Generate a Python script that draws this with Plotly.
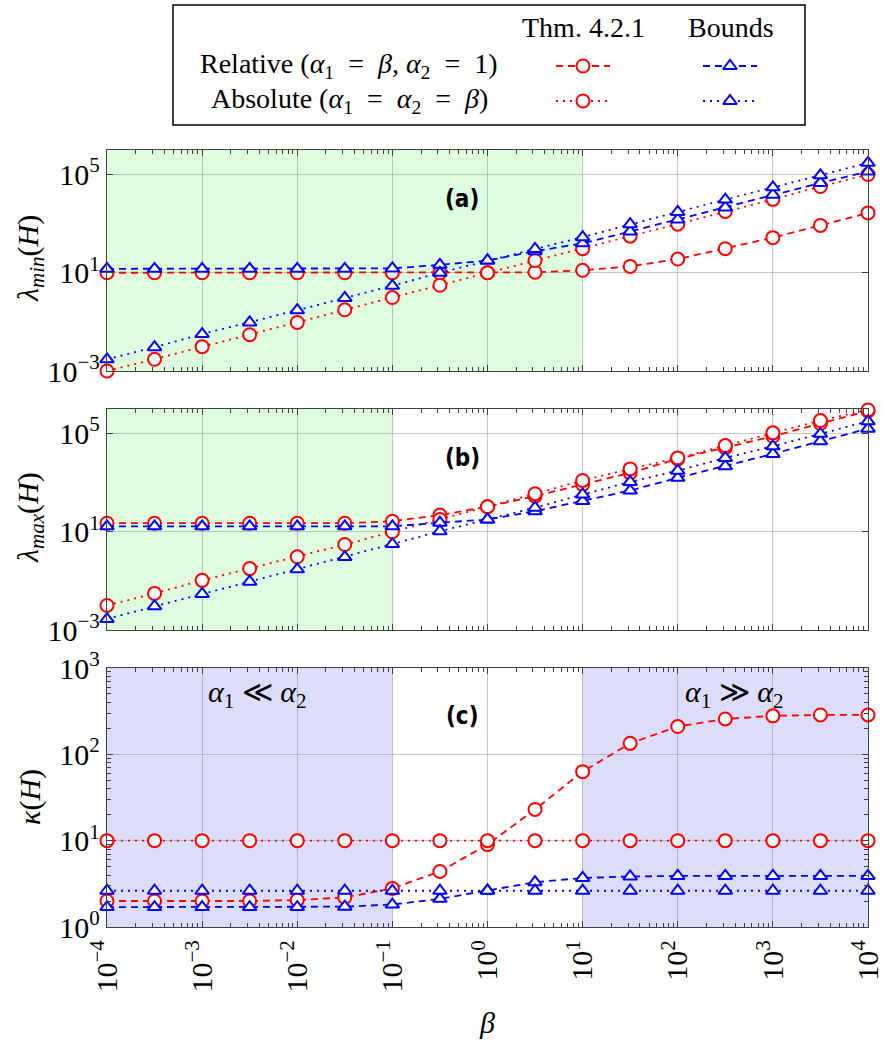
import plotly.graph_objects as go

W, H = 884, 1046

# beta sweep: half-decade steps from 1e-4 to 1e4
beta = [1e-4, 3.16e-4, 1e-3, 3.16e-3, 1e-2, 3.16e-2, 1e-1, 3.16e-1, 1.0,
        3.16, 10.0, 31.6, 100.0, 316.0, 1000.0, 3160.0, 10000.0]

# (a) smallest eigenvalue
lmin_rel_thm = [10, 10, 10, 10, 10, 10, 10, 10, 10, 10.5, 12.6, 18.2, 36.3,
                95.5, 269, 851, 2750]
lmin_abs_thm = [0.001, 0.0030, 0.0098, 0.030, 0.095, 0.31, 0.98, 3.1, 10,
                31.6, 95.5, 309, 955, 3160, 9770, 32400, 100000]
lmin_rel_bnd = [14.5, 14.5, 14.5, 14.5, 14.5, 14.5, 15.1, 21, 31.6, 76, 158,
                479, 1480, 4570, 15100, 45700, 132000]
lmin_abs_bnd = [0.0030, 0.0093, 0.032, 0.095, 0.30, 0.95, 2.95, 10, 31.6, 93,
                282, 955, 3020, 9550, 30200, 93300, 302000]

# (b) largest eigenvalue
lmax_rel_thm = [22.4, 22.4, 22.4, 22.4, 22.4, 22.4, 26.9, 47.9, 105, 282, 851,
                2510, 9330, 26300, 77600, 257000, 832000]
lmax_abs_thm = [0.01, 0.031, 0.105, 0.316, 0.955, 3.02, 10, 31.6, 105, 355,
                1230, 3630, 10200, 32400, 107000, 339000, 912000]
lmax_rel_bnd = [16.6, 16.6, 16.6, 16.6, 16.6, 16.6, 16.6, 23.4, 31.6, 69, 178,
                479, 1580, 4680, 14800, 49000, 158000]
lmax_abs_bnd = [0.0028, 0.0093, 0.0295, 0.093, 0.295, 0.93, 3.16, 10.5, 31.6,
                95.5, 331, 1070, 3090, 10200, 30200, 97700, 316000]

# (c) condition number
kap_rel_thm = [2.0, 2.0, 2.0, 2.0, 2.05, 2.2, 2.8, 4.4, 9.0, 23, 63, 134, 210,
               257, 279, 286, 286]
kap_abs_thm = [10] * 17
kap_rel_bnd = [1.7, 1.7, 1.7, 1.7, 1.7, 1.72, 1.82, 2.12, 2.65, 3.3, 3.7, 3.85,
               3.9, 3.9, 3.9, 3.9, 3.9]
kap_abs_bnd = [2.63] * 17

x_tick_vals = [1e-4, 1e-3, 1e-2, 1e-1, 1, 10, 100, 1000, 10000]
x_tick_text = ["10<sup>−4</sup>", "10<sup>−3</sup>", "10<sup>−2</sup>",
               "10<sup>−1</sup>", "10<sup>0</sup>", "10<sup>1</sup>",
               "10<sup>2</sup>", "10<sup>3</sup>", "10<sup>4</sup>"]
lam_tick_vals = [1e-3, 10, 1e5]
lam_tick_text = ["10<sup>−3</sup>", "10<sup>1</sup>", "10<sup>5</sup>"]
kap_tick_vals = [1, 10, 100, 1000]
kap_tick_text = ["10<sup>0</sup>", "10<sup>1</sup>", "10<sup>2</sup>", "10<sup>3</sup>"]

RED = "#ff0000"
BLUE = "#0000ff"
DASH = "7px,5px"
DOT = "2px,5px"
SERIF = "Liberation Serif, DejaVu Serif, serif"
LABEL_FONT = "DejaVu Sans Condensed, DejaVu Sans, Open Sans, sans-serif"
AXIS_COLOR = "#404040"
GRID_COLOR = "rgba(150,150,150,0.55)"
TICK_SIZE = 30
EQ = "\u2002=\u2002"

def px_x(x):
    return x / W

def px_y(y):
    return 1 - y / H

X_DOM = [px_x(107), px_x(868)]
DOMS = {
    "a": [px_y(371), px_y(150)],
    "b": [px_y(630), px_y(409)],
    "c": [px_y(927), px_y(668)],
}

fig = go.Figure()

styles = [
    (RED, DASH, "circle-open", 13),
    (RED, DOT, "circle-open", 13),
    (BLUE, DASH, "triangle-up-open", 12),
    (BLUE, DOT, "triangle-up-open", 12),
]

def marker(col, sym, size, opacity=None):
    # white-filled outline markers
    m = dict(symbol=sym.replace("-open", ""), size=size, color="white",
             line=dict(color=col, width=2))
    if opacity is not None:
        m["opacity"] = opacity
    return m

panels = [
    ("x", "y", [lmin_rel_thm, lmin_abs_thm, lmin_rel_bnd, lmin_abs_bnd]),
    ("x2", "y2", [lmax_rel_thm, lmax_abs_thm, lmax_rel_bnd, lmax_abs_bnd]),
    ("x3", "y3", [kap_rel_thm, kap_abs_thm, kap_rel_bnd, kap_abs_bnd]),
]

for xa, ya, series in panels:
    for vals, (col, dash, sym, size) in zip(series, styles):
        fig.add_trace(go.Scatter(
            x=beta, y=vals, xaxis=xa, yaxis=ya, mode="lines+markers",
            line=dict(color=col, width=1.8, dash=dash),
            marker=marker(col, sym, size),
            cliponaxis=False, showlegend=False, hoverinfo="skip"))

minor_x = [m * 10 ** e for e in range(-4, 4) for m in range(2, 10)]
minor_k = [m * 10 ** e for e in range(0, 3) for m in range(2, 10)]

def xaxis(anchor, labels):
    return dict(
        type="log", domain=X_DOM, anchor=anchor, range=[-4, 4],
        tickmode="array", tickvals=x_tick_vals, ticktext=x_tick_text,
        showticklabels=labels, tickangle=-90,
        tickfont=dict(family=SERIF, size=TICK_SIZE, color="black"),
        ticks="inside", ticklen=6, tickcolor=AXIS_COLOR, tickwidth=1,
        minor=dict(tickmode="array", tickvals=minor_x, ticks="inside",
                   ticklen=4, tickcolor=AXIS_COLOR, tickwidth=1, showgrid=False),
        showgrid=True, gridcolor=GRID_COLOR, gridwidth=1,
        showline=True, linecolor=AXIS_COLOR, linewidth=1.3, mirror="allticks",
        zeroline=False, automargin=False)

def yaxis(anchor, dom, rng, tv, tt, minor=None):
    d = dict(
        type="log", domain=dom, anchor=anchor, range=rng,
        tickmode="array", tickvals=tv, ticktext=tt,
        tickfont=dict(family=SERIF, size=TICK_SIZE, color="black"),
        ticks="inside", ticklen=6, tickcolor=AXIS_COLOR, tickwidth=1,
        showgrid=True, gridcolor=GRID_COLOR, gridwidth=1,
        showline=True, linecolor=AXIS_COLOR, linewidth=1.3, mirror="allticks",
        zeroline=False, automargin=False)
    if minor is not None:
        d["minor"] = dict(tickmode="array", tickvals=minor, ticks="inside",
                          ticklen=4, tickcolor=AXIS_COLOR, tickwidth=1,
                          showgrid=False)
    return d

fig.update_layout(
    width=W, height=H, margin=dict(l=0, r=0, t=0, b=0),
    paper_bgcolor="white", plot_bgcolor="white", showlegend=False,
    xaxis=xaxis("y", False),
    xaxis2=xaxis("y2", False),
    xaxis3=xaxis("y3", True),
    yaxis=yaxis("x", DOMS["a"], [-3, 6], lam_tick_vals, lam_tick_text),
    yaxis2=yaxis("x2", DOMS["b"], [-3, 6], lam_tick_vals, lam_tick_text),
    yaxis3=yaxis("x3", DOMS["c"], [0, 3], kap_tick_vals, kap_tick_text, minor_k),
    xaxis4=dict(domain=[px_x(173), px_x(805)], range=[173, 805], visible=False,
                anchor="y4", fixedrange=True),
    yaxis4=dict(domain=[px_y(125), px_y(5)], range=[125, 5], visible=False,
                anchor="x4", fixedrange=True),
)

# shaded beta ranges
GREEN = "rgba(222,252,222,1)"
LAVENDER = "rgba(220,221,250,1)"
shade = [
    ("x", "y", 1e-4, 10, GREEN),
    ("x2", "y2", 1e-4, 0.1, GREEN),
    ("x3", "y3", 1e-4, 0.1, LAVENDER),
    ("x3", "y3", 10, 1e4, LAVENDER),
]
for xr, yr, x0, x1, col in shade:
    fig.add_shape(type="rect", xref=xr, yref=yr + " domain", x0=x0, x1=x1,
                  y0=0, y1=1, fillcolor=col, line=dict(width=0), layer="below")

def note(text, x, y, font, xref="paper", yref="paper", angle=0):
    fig.add_annotation(xref=xref, yref=yref, x=x, y=y, text=text,
                       textangle=angle, showarrow=False, font=font,
                       xanchor="center", yanchor="middle")

# panel tags and regime labels
tag_font = dict(family=LABEL_FONT, size=24, color="black")
for xr, yr, tag, yfrac in [("x", "y", "(a)", 0.78), ("x2", "y2", "(b)", 0.78),
                           ("x3", "y3", "(c)", 0.815)]:
    note("<b>" + tag + "</b>", 0.467, yfrac, tag_font,
         xref=xr + " domain", yref=yr + " domain")

math_font = dict(family=SERIF, size=30, color="black")
for xfrac, txt in [(0.198, "<i>α</i><sub>1</sub> ≪ <i>α</i><sub>2</sub>"),
                   (0.825, "<i>α</i><sub>1</sub> ≫ <i>α</i><sub>2</sub>")]:
    note(txt, xfrac, 0.90, math_font, xref="x3 domain", yref="y3 domain")

# axis titles
for ycen, txt in [(258, "<i>λ</i><sub><i>min</i></sub>(<i>H</i>)"),
                  (517, "<i>λ</i><sub><i>max</i></sub>(<i>H</i>)"),
                  (797, "<i>κ</i>(<i>H</i>)")]:
    note(txt, px_x(30), px_y(ycen), math_font, angle=-90)

note("<i>β</i>", px_x(487), px_y(1022), math_font)

# legend table
fig.add_shape(type="rect", xref="paper", yref="paper",
              x0=px_x(173), x1=px_x(805), y0=px_y(125), y1=px_y(5),
              line=dict(color="black", width=1.5), fillcolor="rgba(0,0,0,0)")

leg_font = dict(family=SERIF, size=28, color="black")
for xc, txt in [(583, "Thm. 4.2.1"), (731, "Bounds")]:
    note(txt, xc, 28, leg_font, xref="x4", yref="y4")
for yc, txt in [(66, "Relative (<i>α</i><sub>1</sub>" + EQ + "<i>β</i>, <i>α</i><sub>2</sub>" + EQ + "1)"),
                (101, "Absolute (<i>α</i><sub>1</sub>" + EQ + "<i>α</i><sub>2</sub>" + EQ + "<i>β</i>)")]:
    note(txt, 349, yc, leg_font, xref="x4", yref="y4")

legend_rows = [
    (583, 66, styles[0]), (583, 101, styles[1]),
    (730, 66, styles[2]), (730, 101, styles[3]),
]
for xc, yc, (col, dash, sym, size) in legend_rows:
    fig.add_trace(go.Scatter(
        x=[xc - 27, xc, xc + 27], y=[yc, yc, yc], xaxis="x4", yaxis="y4",
        mode="lines+markers",
        line=dict(color=col, width=1.8, dash=dash),
        marker=marker(col, sym, size, opacity=[0, 1, 0]),
        cliponaxis=False, showlegend=False, hoverinfo="skip"))

fig.write_html("out.html")
